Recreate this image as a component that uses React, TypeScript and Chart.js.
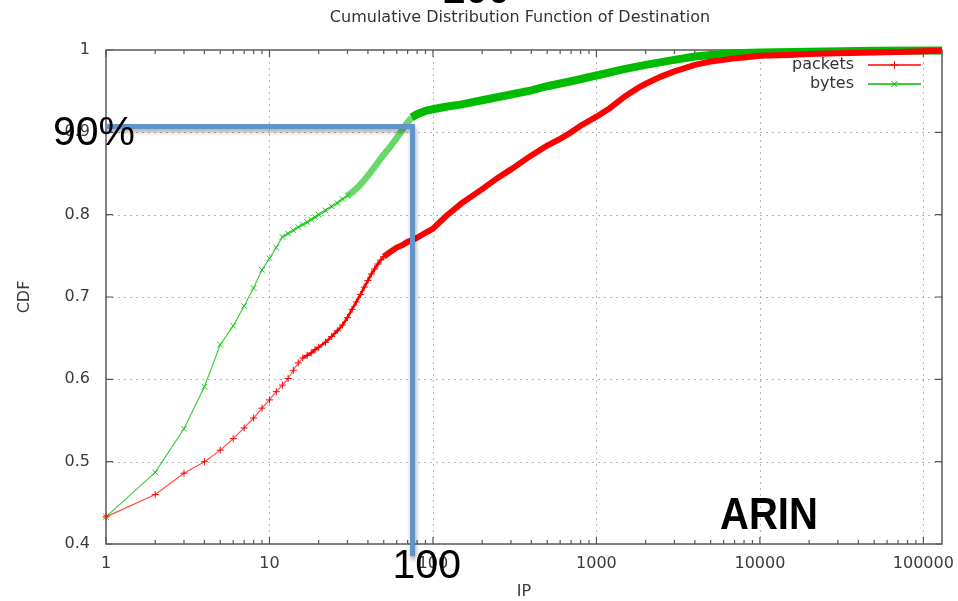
import React, { useEffect, useRef } from 'react';
import { Chart, registerables } from 'chart.js';

Chart.register(...registerables);

// ---- data ----
const packetsX = [1, 2, 3, 4, 5, 6, 7, 8, 9, 10, 11, 12, 13, 14, 15, 16, 17, 18, 19, 20, 22, 24, 26, 28, 30, 32, 34, 36, 38, 40, 42, 44, 46, 48, 50, 55, 60, 65, 70, 75, 80, 90, 100, 120, 150, 200, 250, 300, 400, 500, 600, 700, 800, 1000, 1200, 1500, 1800, 2000, 2500, 3000, 4000, 5000, 6000, 7000, 8000, 10000, 15000, 20000, 30000, 50000, 80000, 130000];
const packetsY = [0.433, 0.46, 0.486, 0.5, 0.514, 0.528, 0.541, 0.553, 0.565, 0.575, 0.585, 0.593, 0.601, 0.611, 0.62, 0.626, 0.629, 0.632, 0.636, 0.639, 0.645, 0.652, 0.659, 0.666, 0.675, 0.685, 0.694, 0.703, 0.712, 0.72, 0.728, 0.734, 0.74, 0.745, 0.749, 0.755, 0.76, 0.763, 0.767, 0.769, 0.772, 0.778, 0.783, 0.798, 0.814, 0.831, 0.845, 0.855, 0.872, 0.884, 0.892, 0.9, 0.908, 0.919, 0.929, 0.944, 0.954, 0.959, 0.968, 0.974, 0.982, 0.986, 0.988, 0.99, 0.991, 0.993, 0.994, 0.995, 0.996, 0.997, 0.998, 0.999];

const bytesX = [1, 2, 3, 4, 5, 6, 7, 8, 9, 10, 11, 12, 13, 14, 15, 16, 17, 18, 19, 20, 22, 24, 26, 28, 30, 32, 35, 38, 41, 44, 47, 50, 54, 58, 63, 68, 74, 80, 90, 100, 120, 150, 200, 300, 400, 500, 700, 1000, 1500, 2000, 3000, 4000, 5000, 7000, 10000, 20000, 50000, 130000];
const bytesY = [0.433, 0.487, 0.54, 0.591, 0.642, 0.665, 0.689, 0.711, 0.733, 0.747, 0.76, 0.773, 0.777, 0.781, 0.785, 0.788, 0.791, 0.794, 0.797, 0.8, 0.805, 0.81, 0.814, 0.819, 0.823, 0.827, 0.834, 0.842, 0.85, 0.858, 0.866, 0.873, 0.881, 0.889, 0.899, 0.909, 0.918, 0.922, 0.926, 0.928, 0.931, 0.934, 0.939, 0.946, 0.951, 0.956, 0.962, 0.969, 0.977, 0.982, 0.988, 0.992, 0.994, 0.996, 0.997, 0.998, 0.999, 0.9995];

const seriesNames = ['packets', 'bytes'];
const xTickValues = [1, 10, 100, 1000, 10000, 100000];
const yTickValues = [0.4, 0.5, 0.6, 0.7, 0.8, 0.9, 1];
const xMin = 1;
const xMax = 130000;
const yMin = 0.4;
const yMax = 1;

const titleText = 'Cumulative Distribution Function of Destination';
const xTitle = 'IP';
const yTitle = 'CDF';

// annotation (slide overlay)
const markX = 75;
const markY = 0.907;
const markYEnd = 0.385;
const markYLabel = '90%';
const markXLabel = '100';
const regionLabel = 'ARIN';
const topCutLabel = '200';

const RED = '#ff0000';
const GREEN = '#00bb00';
const TEXT = '#3a3a3a';
const FONT = "'DejaVu Sans', 'Liberation Sans', sans-serif";
const BIG = "'Liberation Sans', 'DejaVu Sans', sans-serif";

function drawMarker(ctx: CanvasRenderingContext2D, style: string, cx: number, cy: number, r: number) {
  ctx.beginPath();
  if (style === 'cross') {
    ctx.moveTo(cx - r, cy); ctx.lineTo(cx + r, cy);
    ctx.moveTo(cx, cy - r); ctx.lineTo(cx, cy + r);
  } else {
    const d = r * 0.75;
    ctx.moveTo(cx - d, cy - d); ctx.lineTo(cx + d, cy + d);
    ctx.moveTo(cx - d, cy + d); ctx.lineTo(cx + d, cy - d);
  }
  ctx.stroke();
}

const overlayPlugin = {
  id: 'overlay',
  beforeDatasetsDraw(chart: any) {
    const { ctx, chartArea: a, scales } = chart;
    const x = scales.x, y = scales.y;
    ctx.save();
    // dotted grid
    ctx.strokeStyle = '#b4b4b4';
    ctx.lineWidth = 1;
    ctx.setLineDash([2, 4]);
    for (const v of xTickValues) {
      const px = Math.round(x.getPixelForValue(v)) + 0.5;
      if (px <= a.left + 1 || px >= a.right - 1) continue;
      ctx.beginPath(); ctx.moveTo(px, a.top); ctx.lineTo(px, a.bottom); ctx.stroke();
    }
    for (const v of yTickValues) {
      const py = Math.round(y.getPixelForValue(v)) + 0.5;
      if (py <= a.top + 1 || py >= a.bottom - 1) continue;
      ctx.beginPath(); ctx.moveTo(a.left, py); ctx.lineTo(a.right, py); ctx.stroke();
    }
    ctx.setLineDash([]);
    // inward ticks
    ctx.strokeStyle = '#555';
    ctx.lineWidth = 1.2;
    for (const v of xTickValues) {
      const px = x.getPixelForValue(v);
      ctx.beginPath();
      ctx.moveTo(px, a.bottom); ctx.lineTo(px, a.bottom - 7);
      ctx.moveTo(px, a.top); ctx.lineTo(px, a.top + 7);
      ctx.stroke();
      for (let m = 2; m <= 9; m++) {
        const mv = v * m;
        if (mv > xMax) break;
        const mp = x.getPixelForValue(mv);
        ctx.beginPath();
        ctx.moveTo(mp, a.bottom); ctx.lineTo(mp, a.bottom - 4);
        ctx.moveTo(mp, a.top); ctx.lineTo(mp, a.top + 4);
        ctx.stroke();
      }
    }
    for (const v of yTickValues) {
      const py = y.getPixelForValue(v);
      ctx.beginPath();
      ctx.moveTo(a.left, py); ctx.lineTo(a.left + 7, py);
      ctx.moveTo(a.right, py); ctx.lineTo(a.right - 7, py);
      ctx.stroke();
    }
    // border
    ctx.strokeStyle = '#5a5a5a';
    ctx.lineWidth = 1.5;
    ctx.strokeRect(a.left, a.top, a.right - a.left, a.bottom - a.top);
    ctx.restore();
  },
  afterDraw(chart: any) {
    const { ctx, chartArea: a, scales } = chart;
    const x = scales.x, y = scales.y;
    ctx.save();
    // title
    ctx.fillStyle = '#333';
    ctx.font = `16px ${FONT}`;
    ctx.textAlign = 'center';
    ctx.textBaseline = 'middle';
    ctx.fillText(titleText, (a.left + a.right) / 2 - 4, 18);

    // legend
    const colors = [RED, GREEN];
    const styles = ['cross', 'crossRot'];
    ctx.font = `16px ${FONT}`;
    ctx.textAlign = 'right';
    seriesNames.forEach((name, i) => {
      const ly = a.top + 15 + i * 19;
      ctx.fillStyle = '#333';
      ctx.fillText(name, a.right - 88, ly);
      ctx.strokeStyle = colors[i];
      ctx.lineWidth = 1.4;
      ctx.beginPath(); ctx.moveTo(a.right - 74, ly); ctx.lineTo(a.right - 21, ly); ctx.stroke();
      ctx.lineWidth = 1;
      drawMarker(ctx, styles[i], a.right - 47.5, ly, 4);
    });

    // blue guide lines
    const bx = x.getPixelForValue(markX);
    const by = y.getPixelForValue(markY);
    const byEnd = y.getPixelForValue(markYEnd);
    ctx.save();
    ctx.shadowColor = 'rgba(0,0,0,0.35)';
    ctx.shadowBlur = 4;
    ctx.shadowOffsetX = 1;
    ctx.shadowOffsetY = 3;
    ctx.strokeStyle = '#6394c9';
    ctx.lineWidth = 5;
    ctx.lineJoin = 'miter';
    ctx.beginPath();
    ctx.moveTo(a.left, by);
    ctx.lineTo(bx, by);
    ctx.lineTo(bx, byEnd);
    ctx.stroke();
    ctx.restore();

    // big overlay texts
    ctx.fillStyle = '#000';
    ctx.textBaseline = 'alphabetic';
    ctx.textAlign = 'left';
    ctx.font = `41px ${BIG}`;
    ctx.fillText(markYLabel, a.left - 53, by + 18);
    ctx.fillText(markXLabel, bx - 20, a.bottom + 34);

    ctx.save();
    ctx.font = `bold 44px ${BIG}`;
    ctx.translate(a.right - 222, a.bottom - 15);
    ctx.scale(0.91, 1);
    ctx.fillText(regionLabel, 0, 0);
    ctx.restore();

    ctx.font = `bold 40px ${BIG}`;
    ctx.textAlign = 'center';
    ctx.fillText(topCutLabel, bx + 64, 3);
    ctx.restore();
  },
};

function pts(xs: number[], ys: number[]) {
  return xs.map((v, i) => ({ x: v, y: ys[i] }));
}

export default function App() {
  const ref = useRef<HTMLCanvasElement | null>(null);
  useEffect(() => {
    document.body.style.margin = '0';
    const canvas = ref.current;
    if (!canvas) return;
    const redWidth = (xv: number) => (xv <= 16 ? 1.2 : xv <= 50 ? 2.6 : 6);
    const redColor = (xv: number) => (xv <= 16 ? 'rgba(255,30,30,0.8)' : RED);
    const greenWidth = (xv: number) => (xv <= 12 ? 1.2 : xv <= 30 ? 2.6 : xv <= 75 ? 6.5 : 8);
    const greenColor = (xv: number) => (xv <= 12 ? 'rgba(0,190,0,0.75)' : xv <= 75 ? 'rgba(40,200,40,0.7)' : GREEN);
    const chart = new Chart(canvas, {
      type: 'line',
      data: {
        datasets: [
          {
            label: seriesNames[0],
            data: pts(packetsX, packetsY),
            borderColor: RED,
            backgroundColor: RED,
            borderWidth: 1.2,
            pointStyle: 'cross',
            pointRadius: (c: any) => (c.raw && c.raw.x <= 50 ? 3.5 : 0),
            pointBorderWidth: 1,
            pointBorderColor: RED,
            pointHoverRadius: 0,
            tension: 0,
            clip: 10,
            segment: {
              borderWidth: (c: any) => redWidth(c.p1.parsed.x),
              borderColor: (c: any) => redColor(c.p1.parsed.x),
            },
          } as any,
          {
            label: seriesNames[1],
            data: pts(bytesX, bytesY),
            borderColor: GREEN,
            backgroundColor: GREEN,
            borderWidth: 1.2,
            pointStyle: 'crossRot',
            pointRadius: (c: any) => (c.raw && c.raw.x <= 30 ? 4 : 0),
            pointBorderWidth: 1,
            pointBorderColor: 'rgba(0,190,0,0.85)',
            pointHoverRadius: 0,
            tension: 0,
            clip: 10,
            segment: {
              borderWidth: (c: any) => greenWidth(c.p1.parsed.x),
              borderColor: (c: any) => greenColor(c.p1.parsed.x),
            },
          } as any,
        ],
      },
      options: {
        responsive: false,
        maintainAspectRatio: false,
        devicePixelRatio: 1,
        animation: false,
        layout: { padding: { top: 50, right: 16, left: 0, bottom: 0 } },
        plugins: {
          legend: { display: false },
          title: { display: false },
          tooltip: { enabled: false },
        },
        scales: {
          x: {
            type: 'logarithmic',
            min: xMin,
            max: xMax,
            afterBuildTicks: (s: any) => {
              s.ticks = xTickValues.map((v) => ({ value: v }));
            },
            afterFit: (s: any) => {
              s.height = 57;
              s.paddingLeft = 0;
              s.paddingRight = 0;
            },
            ticks: {
              autoSkip: false,
              maxRotation: 0,
              padding: 10,
              color: TEXT,
              font: { family: FONT, size: 16 },
              callback: (v: any) => String(v),
            },
            grid: { display: false, drawTicks: false },
            border: { display: false },
            title: {
              display: true,
              text: xTitle,
              color: TEXT,
              font: { family: FONT, size: 16 },
              padding: { top: 0, bottom: 0 },
            },
          },
          y: {
            type: 'linear',
            min: yMin,
            max: yMax,
            afterBuildTicks: (s: any) => {
              s.ticks = yTickValues.map((v) => ({ value: v }));
            },
            afterFit: (s: any) => {
              s.width = 106;
              s.paddingTop = 0;
              s.paddingBottom = 0;
            },
            ticks: {
              padding: 16,
              color: TEXT,
              font: { family: FONT, size: 16 },
              callback: (v: any) => String(Math.round(Number(v) * 10) / 10),
            },
            grid: { display: false, drawTicks: false },
            border: { display: false },
            title: {
              display: true,
              text: yTitle,
              color: TEXT,
              font: { family: FONT, size: 16 },
              padding: { top: 15, bottom: 0 },
            },
          },
        },
      } as any,
      plugins: [overlayPlugin],
    });
    return () => chart.destroy();
  }, []);
  return (
    <div style={{ position: 'absolute', left: 0, top: 0 }}>
      <canvas ref={ref} width={958} height={601} style={{ display: 'block', width: 958, height: 601 }} />
    </div>
  );
}
